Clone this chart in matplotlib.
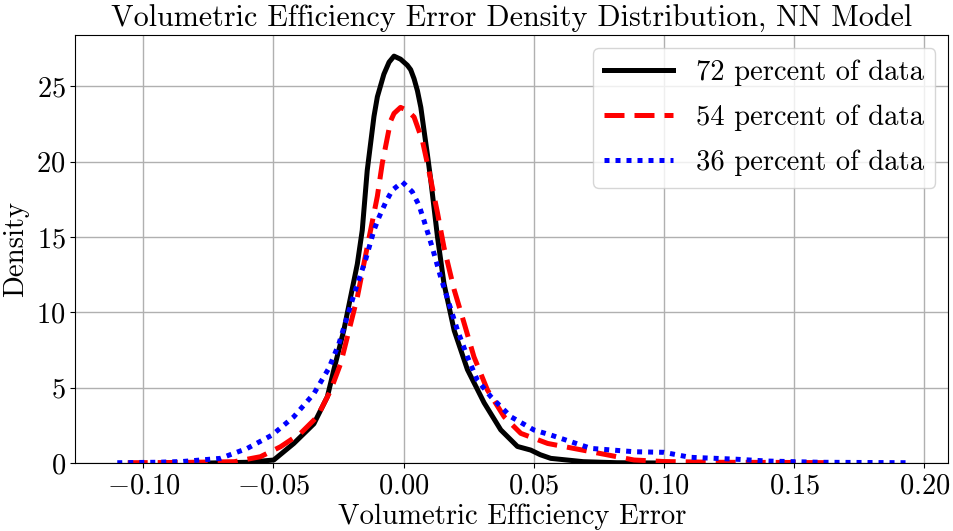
import matplotlib
matplotlib.use("Agg")
import matplotlib.pyplot as plt

# error density curves (x = error, y = density)
x72 = [-0.075, -0.06, -0.0499, -0.0422, -0.0345, -0.0293, -0.0268, -0.023, -0.0204, -0.0178,
       -0.0159, -0.014, -0.0127, -0.0114, -0.0101, -0.0076, -0.0056, -0.0037, -0.0012, 0.0014,
       0.0027, 0.004, 0.0053, 0.0066, 0.0078, 0.0091, 0.0104, 0.013, 0.0155, 0.0194,
       0.0245, 0.0309, 0.0373, 0.0437, 0.0488, 0.0525, 0.0565, 0.069, 0.082, 0.10]
y72 = [0.0, 0.05, 0.2, 1.3, 2.6, 4.4, 6.2, 8.8, 11.0, 13.2,
       15.45, 19.4, 21.2, 23.0, 24.3, 25.8, 26.6, 27.0, 26.8, 26.4,
       26.1, 25.5, 24.7, 23.6, 22.1, 20.5, 18.8, 15.0, 11.9, 8.8,
       6.2, 4.0, 2.2, 1.1, 0.86, 0.55, 0.31, 0.09, 0.02, 0.0]

x54 = [-0.106, -0.085, -0.065, -0.055, -0.0473, -0.0396, -0.0332, -0.0281, -0.0242, -0.021,
       -0.0178, -0.0153, -0.0127, -0.0101, -0.0082, -0.005, -0.0037, -0.0012, 0.0014, 0.004,
       0.0072, 0.0097, 0.013, 0.0155, 0.0194, 0.0232, 0.027, 0.0322, 0.0386, 0.045,
       0.0553, 0.072, 0.0885, 0.10, 0.12, 0.145, 0.167]
y54 = [0.02, 0.04, 0.09, 0.42, 1.08, 1.97, 3.07, 4.8, 6.6, 8.8,
       11.0, 13.2, 15.45, 17.7, 19.9, 22.7, 23.2, 23.6, 23.4, 22.96,
       21.4, 19.4, 16.6, 14.3, 11.5, 9.3, 7.05, 4.84, 3.07, 1.97,
       1.3, 0.75, 0.2, 0.1, 0.05, 0.04, 0.02]

x36 = [-0.110, -0.095, -0.085, -0.0704, -0.0601, -0.0505, -0.0422, -0.0345, -0.0287, -0.0249,
       -0.0217, -0.0185, -0.0146, -0.0114, -0.0095, -0.0069, -0.0044, -0.0005, 0.0033, 0.0059,
       0.0078, 0.011, 0.0142, 0.0174, 0.0207, 0.0245, 0.0283, 0.0335, 0.0412, 0.0501,
       0.0565, 0.072, 0.0885, 0.10, 0.11, 0.127, 0.14, 0.16, 0.195]
y36 = [0.02, 0.05, 0.1, 0.31, 0.97, 1.86, 3.07, 4.6, 6.3, 7.9,
       9.7, 11.5, 13.5, 15.45, 16.3, 17.3, 18.1, 18.65, 18.0, 17.1,
       16.1, 14.3, 12.35, 10.6, 8.8, 7.05, 5.5, 4.4, 3.07, 2.19,
       1.86, 0.97, 0.75, 0.71, 0.38, 0.26, 0.13, 0.05, 0.02]

labels = ["72 percent of data", "54 percent of data", "36 percent of data"]
xticks = [-0.10, -0.05, 0.00, 0.05, 0.10, 0.15, 0.20]
yticks = [0, 5, 10, 15, 20, 25]

plt.rcParams["font.family"] = "cmr10"
plt.rcParams["mathtext.fontset"] = "cm"
plt.rcParams["axes.formatter.use_mathtext"] = True

fig, ax = plt.subplots(figsize=(9.54, 5.31), dpi=100)
ax.plot(x72, y72, color="black", lw=3.6, ls="-", label=labels[0])
ax.plot(x54, y54, color="red", lw=3.6, ls=(0, (4, 2)), label=labels[1])
ax.plot(x36, y36, color="blue", lw=3.6, ls=(0, (1, 1.2)), label=labels[2])

ax.set_xlim(-0.1261, 0.2092)
ax.set_ylim(0, 28.4)
ax.set_xticks(xticks)
ax.set_xticklabels([f"${t:.2f}$" for t in xticks], fontsize=20.5)
ax.set_yticks(yticks)
ax.set_yticklabels([f"${t}$" for t in yticks], fontsize=20.5)
ax.grid(True, color="#b0b0b0", lw=1)
ax.set_axisbelow(True)
ax.set_xlabel("Volumetric Efficiency Error", fontsize=20.7, labelpad=3)
ax.set_ylabel("Density", fontsize=20.7, labelpad=5)
ax.set_title("Volumetric Efficiency Error Density Distribution, NN Model",
             fontsize=21.7, pad=6)
ax.legend(loc="upper right", fontsize=20.6, handlelength=2.4,
          borderpad=0.4, labelspacing=0.65, borderaxespad=0.45)

fig.subplots_adjust(left=0.079, right=0.994, top=0.934, bottom=0.128)
fig.savefig("out.png", dpi=100)
